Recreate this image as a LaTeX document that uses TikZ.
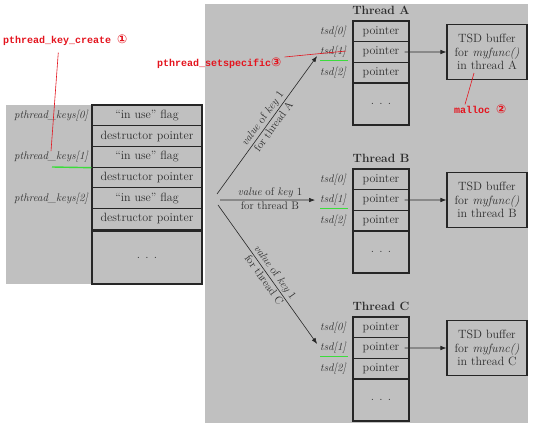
\documentclass[tikz,border=0pt]{standalone}
\usepackage{fontspec}
\setmonofont{Liberation Mono}
\newfontfamily\circfont{DejaVu Sans}
\usetikzlibrary{arrows.meta}

\definecolor{bggray}{RGB}{192,192,192}
\definecolor{txtgray}{RGB}{45,45,45}
\definecolor{annred}{RGB}{228,20,30}
\definecolor{hlgreen}{RGB}{60,220,60}

\newcommand{\circnum}[1]{{\circfont\fontsize{12}{12}\selectfont #1}}

\tikzset{
  cell/.style={draw=black!85, line width=1.1pt, fill=bggray, text=txtgray,
    minimum height=20.7pt, inner sep=0pt, font=\fontsize{12}{14}\selectfont},
  keycell/.style={cell, minimum width=110pt},
  tsdcell/.style={cell, minimum width=56pt},
  idx/.style={text=txtgray, font=\fontsize{11}{13}\selectfont\itshape,
    anchor=east, inner sep=0pt},
  bufbox/.style={draw=black!85, line width=1.1pt, fill=bggray, text=txtgray,
    minimum width=80pt, minimum height=55pt, align=center, inner sep=0pt,
    font=\fontsize{12}{13.5}\selectfont},
  note/.style={text=annred, font=\fontsize{10}{12}\selectfont\ttfamily\bfseries,
    inner sep=0pt, anchor=west},
  annline/.style={annred, line width=0.6pt},
  hl/.style={hlgreen, line width=1.4pt},
  ptr/.style={-{Latex[length=6pt,width=4.5pt]}, line width=0.6pt, black!85},
  onarrow/.style={text=txtgray, font=\fontsize{11}{13}\selectfont, inner sep=1.5pt}
}

\begin{document}
\begin{tikzpicture}[x=1pt,y=-1pt]
    \useasboundingbox[fill=white] (0,0) rectangle (554,435);

    % gray backgrounds
    \fill[bggray] (6,105) rectangle (202,284);
    \fill[bggray] (205,4) rectangle (528,423);

    % key table
    \foreach \i/\txt in {0/{``in use'' flag},1/destructor pointer,2/{``in use'' flag},
                         3/destructor pointer,4/{``in use'' flag},5/destructor pointer} {
        \node[keycell] (k\i) at (147,115.4+20.7*\i) {\txt};
    }
    \node[keycell, minimum height=53pt] (kdots) at (147,257.5) {. . .};
    \foreach \k in {0,1,2} {
        \node[idx] (key\k) at (88,115.5+41.4*\k) {pthread\_keys[\k]};
    }

    % threads
    \foreach \T/\y in {A/21,B/169,C/317} {
        \node[text=txtgray, font=\fontsize{12}{14}\selectfont\bfseries] (title\T) at (381,\y-11) {Thread \T};
        \foreach \j in {0,1,2} {
            \node[tsdcell] (p\T\j) at (381,\y+10.35+20.7*\j) {pointer};
            \node[idx] (tsd\T\j) at (346,\y+10.35+20.7*\j) {tsd[\j]};
        }
        \node[tsdcell, minimum height=42pt] (pdots\T) at (381,\y+83) {. . .};
        \node[bufbox] (buf\T) at (487,\y+31) {TSD buffer\\for \textit{myfunc()}\\in thread \T};
        \draw[ptr] ([xshift=-5pt]p\T1.east) -- (buf\T.west);
        \draw[hl] ([yshift=-3pt]tsd\T1.south west) -- ([xshift=2pt,yshift=-3pt]tsd\T1.south east);
    }

    % value of key 1 for each thread
    \coordinate (srcA) at (217,194);
    \coordinate (srcB) at (220,200);
    \coordinate (srcC) at (218,205);
    \draw[ptr, shorten >=5pt] (srcA) -- (tsdA1.west)
        node[onarrow, midway, sloped, above] {\textit{value} of \textit{key} 1}
        node[onarrow, midway, sloped, below] {for thread A};
    \draw[ptr, shorten >=5pt] (srcB) -- (tsdB1.west)
        node[onarrow, midway, above] {\textit{value} of \textit{key} 1}
        node[onarrow, midway, below] {for thread B};
    \draw[ptr, shorten >=5pt] (srcC) -- (tsdC1.west)
        node[onarrow, midway, sloped, above] {\textit{value} of \textit{key} 1}
        node[onarrow, midway, sloped, below] {for thread C};

    % green marks
    \coordinate (g0) at (52,167);
    \draw[hl] (g0) -- (k2.south west);

    % red notes
    \node[note] (create) at (3,40) {pthread\_key\_create \circnum{①}};
    \draw[annline] ([xshift=-7pt,yshift=-7pt]create.south) -- (key1.north);
    \node[note] (setspec) at (157,63) {pthread\_setspecific\circnum{③}};
    \draw[annline] ([xshift=3pt,yshift=6pt]setspec.east) -- ([yshift=1pt]tsdA1.east);
    \node[note] (malloc) at (454,109) {malloc \circnum{②}};
    \draw[annline] ([xshift=11pt]malloc.north west) -- ([xshift=-13pt,yshift=7pt]bufA.south);
\end{tikzpicture}
\end{document}
